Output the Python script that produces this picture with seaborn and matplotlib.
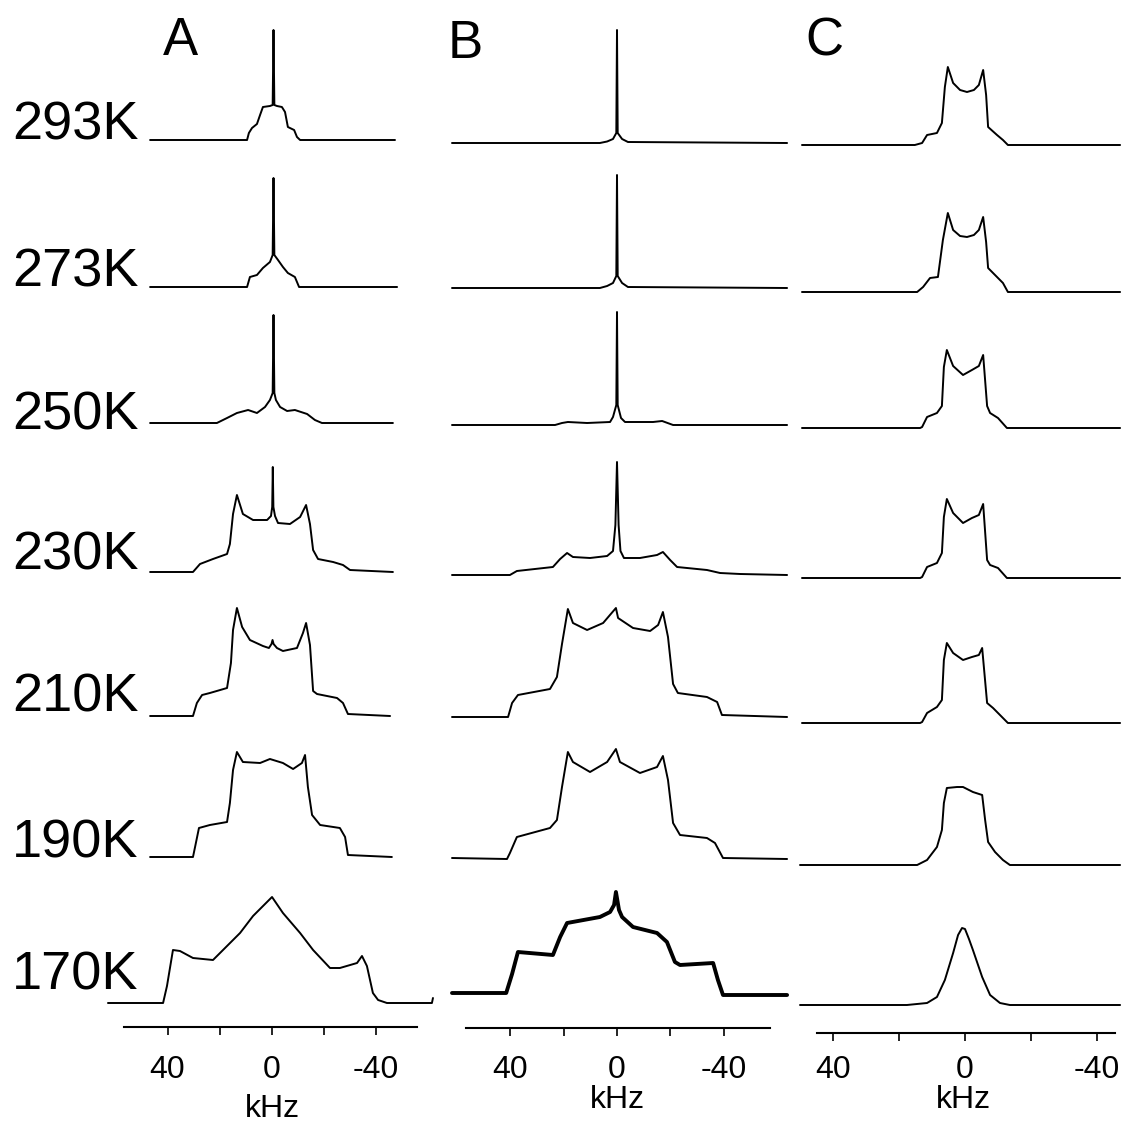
import matplotlib
matplotlib.use("Agg")
import matplotlib.pyplot as plt
import seaborn as sns
import pandas as pd

# ---------------- data (kHz, intensity in a.u.) ----------------
temps = ["293K", "273K", "250K", "230K", "210K", "190K", "170K"]
tick_major = [40, 0, -40]
tick_major_labels = ["40", "0", "-40"]
tick_minor = [20, -20]
panel_letters = ["A", "B", "C"]
xlabel = "kHz"

# Column A
A293_khz = [46.7, 9.4, 8.7, 7.5, 5.6, 4.4, 3.3, 0.6, -0.45, -0.77, -1.1, -2.1, -4.0, -5.2, -6.3, -8.7, -9.8, -11.0, -47.5]
A293_int = [0, 0, 7, 12, 16, 25, 33, 34, 35, 110, 35, 34, 33, 28, 13, 10, 3, 0, 0]
A273_khz = [46.7, 9.4, 8.3, 5.6, 3.3, 0.6, -0.45, -0.77, -1.1, -2.5, -4.4, -6.3, -9.0, -10.6, -48.3]
A273_int = [0, 0, 10, 12, 19, 25, 32, 109, 32, 27, 20, 14, 10, 0, 0]
A250_khz = [46.7, 21.0, 17.1, 13.3, 9.0, 5.6, 2.5, 0.6, -0.45, -0.77, -1.1, -1.7, -3.3, -6.0, -9.0, -13.7, -16.7, -19.4, -46.7]
A250_int = [0, 0, 5, 10, 13, 10, 16, 23, 30, 108, 30, 23, 16, 12, 13, 9, 3, 0, 0]
A230_khz = [46.7, 30.2, 27.5, 22.5, 17.1, 16.0, 14.8, 13.3, 11.0, 7.1, 1.7, 0.2, -0.27, -0.5, -0.73, -1.35, -2.5, -7.1, -11.0, -13.3, -14.8, -16.0, -17.9, -23.7, -27.5, -30.2, -46.7]
A230_int = [0, 0, 8, 13, 18, 28, 58, 77, 58, 52, 52, 56, 65, 105, 65, 56, 49, 48, 55, 67, 48, 22, 13, 10, 7, 2, 0]
A210_khz = [46.7, 30.2, 28.7, 26.7, 23.7, 17.1, 15.6, 14.8, 13.3, 11.3, 8.3, 3.3, 1.0, 0.0, -0.4, -0.8, -2.1, -4.4, -9.8, -12.1, -13.3, -14.8, -16.0, -17.5, -25.2, -27.5, -29.4, -45.6]
A210_int = [0, 0, 13, 21, 23, 28, 53, 86, 108, 89, 76, 70, 68, 72, 76, 72, 68, 65, 68, 83, 93, 71, 25, 22, 18, 13, 2, 0]
A190_khz = [46.7, 30.2, 29.4, 27.9, 23.7, 17.1, 16.0, 14.8, 13.3, 11.0, 4.4, 0.6, -4.4, -8.3, -11.7, -12.9, -14.0, -15.6, -18.7, -26.3, -28.3, -29.4, -46.3]
A190_int = [0, 0, 10, 29, 32, 35, 54, 87, 105, 95, 94, 98, 94, 88, 94, 102, 70, 42, 32, 29, 20, 2, 0]
A170_khz = [62.9, 41.7, 40.2, 37.9, 35.2, 30.2, 22.5, 19.8, 12.1, 7.1, -0.2, -4.4, -11.0, -16.0, -22.5, -26.3, -32.9, -34.8, -36.7, -39.0, -41.0, -44.4, -61.7, -62.1]
A170_int = [0, 0, 17, 53, 52, 45, 43, 50, 70, 87, 106, 90, 70, 53, 35, 35, 40, 47, 37, 10, 3, 0, 0, 5]

# Column B
B293_khz = [61.8, 6.4, 3.7, 1.5, 0.26, 0.0, -0.26, -1.9, -4.1, -63.7]
B293_int = [0, 0, 1.5, 4, 10, 113, 10, 4, 1, 0]
B273_khz = [61.8, 6.4, 3.7, 1.5, 0.26, 0.0, -0.26, -1.9, -4.1, -63.7]
B273_int = [0, 0, 2, 5, 12, 113, 12, 5, 1, 0]
B250_khz = [61.8, 35.2, 23.2, 20.6, 18.4, 11.2, 2.6, 1.5, 0.26, 0.0, -0.26, -1.5, -3.0, -13.5, -16.9, -21.0, -63.7]
B250_int = [0, 0, 0, 2, 3, 2, 3, 8, 20, 113, 20, 7, 3, 3, 4, 0, 0]
B230_khz = [61.8, 40.1, 37.5, 24.0, 21.3, 18.7, 16.5, 10.1, 3.7, 1.5, 0.6, 0.0, -0.6, -1.3, -2.6, -8.6, -15.0, -17.2, -19.9, -22.5, -33.7, -38.6, -46.1, -63.7]
B230_int = [0, 0, 4, 8, 16, 22, 18, 17, 19, 24, 50, 113, 50, 24, 17, 17, 20, 23, 15, 8, 5, 2, 1, 0]
B210_khz = [61.8, 40.8, 39.3, 37.1, 25.1, 22.5, 20.6, 18.4, 16.5, 11.2, 5.2, 0.4, -0.4, -6.0, -12.4, -15.4, -17.2, -19.1, -21.0, -22.8, -33.7, -37.5, -39.3, -63.7]
B210_int = [0, 0, 14, 22, 28, 40, 73, 108, 94, 87, 94, 109, 99, 89, 86, 92, 105, 80, 33, 24, 20, 15, 2, 0]
B190_khz = [61.8, 41.2, 40.1, 37.5, 25.1, 22.5, 20.6, 18.4, 16.5, 10.1, 3.7, 0.4, -1.1, -8.6, -15.0, -17.2, -19.1, -21.0, -23.6, -33.7, -36.7, -39.7, -63.7]
B190_int = [1, 0, 6, 22, 31, 39, 72, 107, 97, 87, 97, 110, 97, 86, 92, 103, 79, 36, 24, 21, 16, 1, 0]
B170_khz = [61.8, 41.5, 39.3, 37.1, 24.0, 21.3, 18.7, 6.4, 2.6, 1.1, 0.4, -0.75, -1.9, -6.0, -15.0, -18.7, -21.7, -23.6, -36.0, -37.8, -39.7, -63.7]
B170_int = [2, 2, 21, 43, 40, 58, 72, 78, 83, 90, 103, 85, 78, 68, 62, 53, 33, 30, 32, 15, 0, 0]

# Column C
C293_khz = [49.4, 15.2, 13.0, 11.5, 8.5, 7.0, 6.1, 5.2, 3.6, 1.5, -0.6, -2.7, -4.2, -5.5, -6.4, -7.0, -9.7, -11.5, -13.0, -47.0]
C293_int = [0, 0, 2, 10, 12, 22, 58, 78, 62, 55, 53, 55, 60, 75, 50, 18, 10, 5, 0, 0]
C273_khz = [49.4, 14.5, 12.7, 10.6, 8.2, 6.7, 5.2, 3.6, 1.5, -0.6, -2.7, -4.2, -5.5, -6.4, -7.0, -9.7, -11.5, -13.0, -47.0]
C273_int = [0, 0, 5, 14, 15, 52, 79, 62, 56, 55, 57, 62, 75, 50, 24, 15, 9, 0, 0]
C250_khz = [49.4, 13.6, 13.0, 11.5, 8.5, 7.0, 6.4, 5.5, 3.6, 0.6, -2.1, -4.2, -5.5, -6.7, -7.6, -10.0, -12.7, -47.0]
C250_int = [0, 0, 1, 11, 15, 22, 61, 78, 62, 53, 58, 62, 73, 22, 15, 10, 0, 0]
C230_khz = [49.4, 13.6, 13.0, 11.5, 8.5, 7.0, 6.4, 5.5, 3.6, 0.6, -2.1, -4.2, -5.5, -6.7, -7.6, -10.0, -12.7, -47.0]
C230_int = [0, 0, 1, 11, 15, 25, 61, 79, 65, 55, 60, 63, 74, 18, 13, 10, 0, 0]
C210_khz = [49.4, 13.6, 13.0, 11.5, 8.5, 7.0, 6.4, 5.5, 3.6, 0.6, -2.1, -4.2, -5.2, -6.7, -8.5, -10.6, -13.0, -47.0]
C210_int = [0, 0, 1, 10, 16, 23, 63, 80, 70, 63, 66, 68, 75, 20, 15, 8, 0, 0]
C190_khz = [50.0, 14.5, 11.5, 8.5, 7.0, 6.4, 5.5, 2.4, 0.6, -2.4, -5.2, -6.1, -7.0, -9.1, -11.5, -13.6, -47.0]
C190_int = [0, 0, 5, 18, 35, 62, 77, 78, 78, 73, 70, 45, 23, 13, 5, 0, 0]
C170_khz = [50.0, 17.6, 11.5, 8.5, 6.1, 3.6, 2.1, 0.9, 0.0, -1.2, -2.4, -5.2, -7.6, -10.6, -13.6, -47.0]
C170_int = [0, 0, 2, 8, 25, 52, 70, 77, 76, 66, 55, 28, 10, 2, 0, 0]

# ---------------- layout (pixels) ----------------
W, H = 1121, 1124
columns = [
    dict(name="A", zero=271.5, scale=2.6, left=95, right=445, axis=1027, bounds=(56.7, -56.0),
         baselines=[140, 287, 423, 572, 716, 857, 1003], pad=14,
         letter=(163, 55), xlab=(272, 1117),
         data=[(A293_khz, A293_int), (A273_khz, A273_int), (A250_khz, A250_int), (A230_khz, A230_int),
               (A210_khz, A210_int), (A190_khz, A190_int), (A170_khz, A170_int)],
         lws=[1.4] * 7),
    dict(name="B", zero=617, scale=2.67, left=445, right=795, axis=1028, bounds=(56.6, -57.3),
         baselines=[143, 288, 425, 575, 717, 859, 995], pad=13.5,
         letter=(448, 58), xlab=(617, 1108),
         data=[(B293_khz, B293_int), (B273_khz, B273_int), (B250_khz, B250_int), (B230_khz, B230_int),
               (B210_khz, B210_int), (B190_khz, B190_int), (B170_khz, B170_int)],
         lws=[1.4] * 6 + [2.8]),
    dict(name="C", zero=965, scale=3.3, left=795, right=1121, axis=1033, bounds=(44.8, -45.5),
         baselines=[145, 292, 428, 578, 723, 865, 1005], pad=10,
         letter=(805, 56), xlab=(963, 1108),
         data=[(C293_khz, C293_int), (C273_khz, C273_int), (C250_khz, C250_int), (C230_khz, C230_int),
               (C210_khz, C210_int), (C190_khz, C190_int), (C170_khz, C170_int)],
         lws=[1.4] * 7),
]
label_baselines = [140, 287, 430, 570, 712, 858, 990]

sns.set_style("ticks")
plt.rcParams["font.family"] = ["Liberation Sans", "DejaVu Sans"]
plt.rcParams["text.color"] = "black"
plt.rcParams["axes.labelcolor"] = "black"
plt.rcParams["xtick.color"] = "black"
plt.rcParams["axes.edgecolor"] = "black"

fig = plt.figure(figsize=(W / 100, H / 100), dpi=100)
fig.patch.set_facecolor("white")

for col in columns:
    ax = fig.add_axes([col["left"] / W, 1 - col["axis"] / H,
                       (col["right"] - col["left"]) / W, col["axis"] / H])
    xl = (col["zero"] - col["left"]) / col["scale"]
    xr = (col["zero"] - col["right"]) / col["scale"]
    for t, (kx, ky), base, lw in zip(temps, col["data"], col["baselines"], col["lws"]):
        df = pd.DataFrame({"kHz": kx, "y": [H - base + v for v in ky]})
        sns.lineplot(data=df, x="kHz", y="y", estimator=None, sort=False,
                     color="black", linewidth=lw, ax=ax, legend=False)
    ax.set_xlim(xl, xr)
    ax.set_ylim(H - col["axis"], H)
    ax.set_yticks([])
    ax.set_ylabel("")
    ax.set_xlabel("")
    for s in ["left", "right", "top"]:
        ax.spines[s].set_visible(False)
    ax.spines["bottom"].set_bounds(col["bounds"][1], col["bounds"][0])
    ax.spines["bottom"].set_linewidth(1.5)
    ax.spines["bottom"].set_color("black")
    ax.set_xticks(tick_major)
    ax.set_xticklabels(tick_major_labels)
    ax.set_xticks(tick_minor, minor=True)
    ax.tick_params(axis="x", which="both", direction="out", length=6, width=1.2,
                   bottom=True, pad=col["pad"], labelsize=23, colors="black")
    ax.patch.set_alpha(0)
    fig.text(col["letter"][0] / W, 1 - col["letter"][1] / H, col["name"],
             fontsize=38, ha="left", va="baseline", color="black")
    fig.text(col["xlab"][0] / W, 1 - col["xlab"][1] / H, xlabel,
             fontsize=23, ha="center", va="baseline", color="black")

for t, yb in zip(temps, label_baselines):
    fig.text(12 / W, 1 - yb / H, t, fontsize=39, ha="left", va="baseline", color="black")

fig.savefig("out.png", dpi=100, facecolor="white")
